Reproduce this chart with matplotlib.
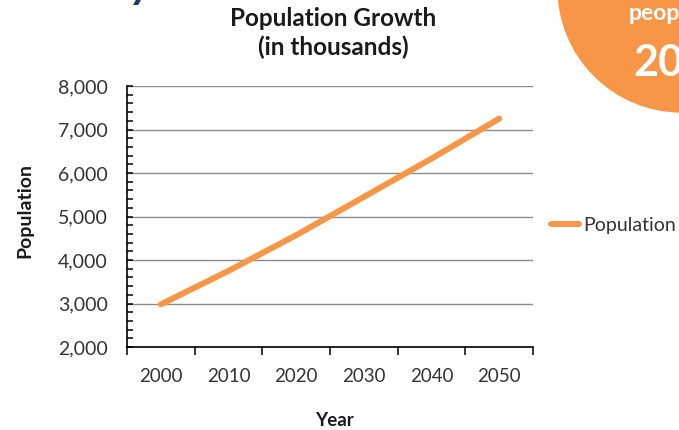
import matplotlib
matplotlib.use("Agg")
import matplotlib.pyplot as plt
from matplotlib.patches import Circle
from matplotlib.ticker import FuncFormatter, FixedLocator, MultipleLocator

years = ["2000", "2010", "2020", "2030", "2040", "2050"]
population = [2980, 3750, 4570, 5450, 6330, 7250]
series_name = "Population"

plt.rcParams['font.family'] = ['Lato', 'DejaVu Sans']

W, H = 679, 430
fig = plt.figure(figsize=(W / 100, H / 100), dpi=100)
ax = fig.add_axes([127 / W, 1 - 347 / H, (533 - 127) / W, (347 - 86) / H])

orange = '#F79646'
tick_col = '#333333'

x = list(range(len(years)))
ax.plot(x, population, color=orange, lw=4.3, solid_capstyle='round',
        solid_joinstyle='round', label=series_name, zorder=3)

ax.set_ylim(2000, 8000)
ax.set_xlim(-0.5, len(years) - 0.5)
ax.yaxis.set_major_locator(MultipleLocator(1000))
ax.yaxis.set_minor_locator(MultipleLocator(200))
ax.yaxis.set_major_formatter(FuncFormatter(lambda v, p: f"{int(v):,}"))
ax.grid(axis='y', which='major', color='#8c8c8c', lw=1.0, zorder=0)

ax.xaxis.set_major_locator(FixedLocator([i - 0.5 for i in range(len(years) + 1)]))
ax.xaxis.set_minor_locator(FixedLocator(x))
ax.set_xticklabels([])
ax.set_xticklabels(years, minor=True)

for s in ['top', 'right']:
    ax.spines[s].set_visible(False)
for s in ['left', 'bottom']:
    ax.spines[s].set_color('black')
    ax.spines[s].set_linewidth(1.2)

ax.tick_params(axis='y', which='both', direction='in', length=4.5, width=1.1,
               colors='black', labelcolor=tick_col, labelsize=14, pad=14)
ax.tick_params(axis='x', which='major', direction='out', length=5.5, width=1.1, colors='black')
ax.tick_params(axis='x', which='minor', length=0, labelsize=13.5, labelcolor=tick_col, pad=15)

fig.text(333 / W, 1 - 18 / H, "Population Growth", ha='center', va='center',
         fontsize=17.5, fontweight='bold', color='#1a1a1a')
fig.text(333 / W, 1 - 47 / H, "(in thousands)", ha='center', va='center',
         fontsize=17.5, fontweight='bold', color='#1a1a1a')
fig.text(334 / W, 1 - 420 / H, "Year", ha='center', va='center',
         fontsize=13.5, fontweight='bold', color='#1a1a1a')
fig.text(25 / W, 1 - 211 / H, "Population", ha='center', va='center', rotation=90,
         fontsize=14, fontweight='bold', color='#1a1a1a')

ax.legend(loc='center left', bbox_to_anchor=(551 / W, 1 - 225 / H),
          bbox_transform=fig.transFigure, frameon=False, borderpad=0,
          borderaxespad=0, handlelength=1.45, handletextpad=0.2, fontsize=14,
          labelcolor=tick_col)

# decorative background elements partially visible
circ = Circle((682, H + 12), 124, transform=None, color=orange, zorder=0)
fig.patches.append(circ)
fig.text(629 / W, 1 - 14 / H, "people", ha='left', va='center', fontsize=16.5,
         fontweight='bold', color='white')
fig.text(633 / W, 1 - 63 / H, "2050", ha='left', va='center', fontsize=31,
         fontweight='bold', color='white')
fig.text(131 / W, 1 + 2 / H, "y", ha='left', va='baseline', fontsize=32,
         fontweight='bold', style='italic', color='#1F3864')

fig.savefig("out.png", dpi=100)
